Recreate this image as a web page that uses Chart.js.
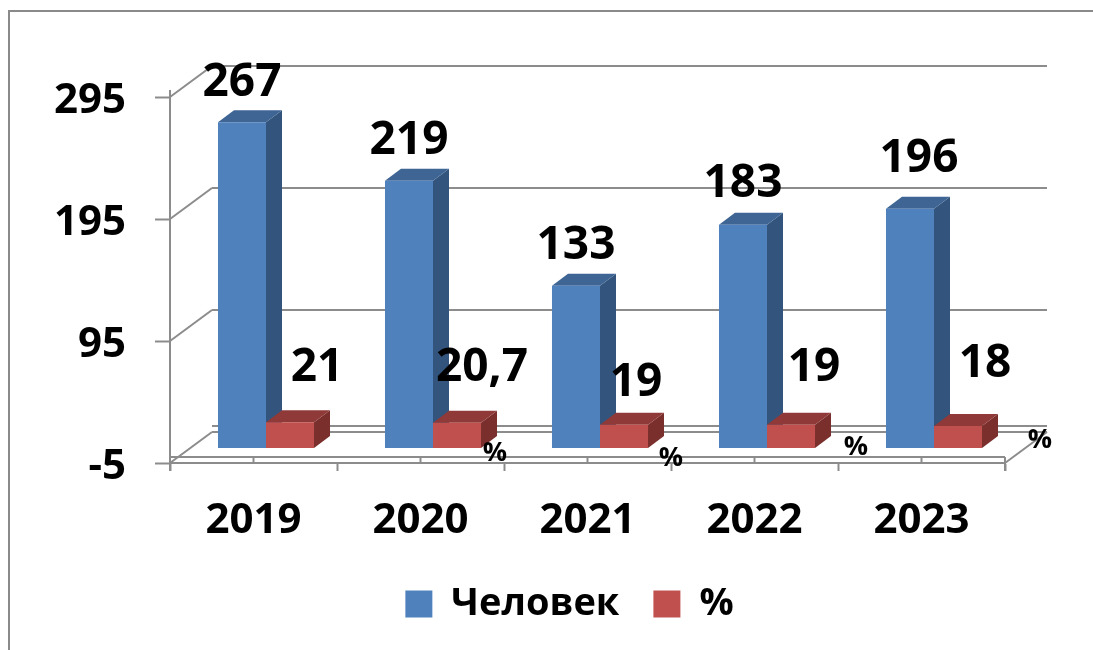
<!DOCTYPE html>
<html>
<head>
<meta charset="utf-8">
<style>html,body{margin:0;padding:0;background:#fff;overflow:hidden}canvas{display:block}</style>
<script src="https://cdn.jsdelivr.net/npm/chart.js@4"></script>
</head>
<body>
<canvas id="c" width="1093" height="650"></canvas>
<script>
const categories = ["2019", "2020", "2021", "2022", "2023"];
const people = [267, 219, 133, 183, 196];
const percent = [21, 20.7, 19, 19, 18];
const percentLabels = ["21", "20,7", "19", "19", "18"];
const percentSuffix = ["", "%", "%", "%", "%"];
const yTickMin = -5, yTickMax = 295, yTickStep = 100;

// layout / style (not data)
const FONT = "'Open Sans', sans-serif";
const LINE = "#8c8c8c";
const DEPTH = {x: 42, y: -31};
const BAR_SHIFT = {x: 12.5, y: -9};
const BAR_DEPTH = {x: 16, y: -12};
const peopleOffsets = [[0,-39],[0,-40],[0,-40],[0,-41],[9,-50]];
const percentOffsets = [[27,-54],[25,-55],[12,-42],[23,-57],[27,-62]];
const suffixOffsets = [[0,0],[38,31],[47,34],[65,23],[82,14]];
const faces = [
  {top: "#3e6594", side: "#32547d"},
  {top: "#8f3a38", side: "#7a2f2d"}
];

const scene = {
  id: "scene",
  beforeDraw(chart) {
    const {ctx} = chart;
    ctx.save();
    ctx.fillStyle = "#fff";
    ctx.fillRect(0, 0, chart.width, chart.height);
    ctx.strokeStyle = "#8a8a8a";
    ctx.lineWidth = 2;
    ctx.beginPath();
    ctx.moveTo(1093, 11); ctx.lineTo(9, 11); ctx.lineTo(9, 650);
    ctx.stroke();
    ctx.restore();
  },
  beforeDatasetsDraw(chart) {
    const {ctx, chartArea: a, scales: {x, y}} = chart;
    ctx.save();
    ctx.strokeStyle = LINE;
    ctx.lineWidth = 2;
    const seg = (x0, y0, x1, y1) => { ctx.beginPath(); ctx.moveTo(x0, y0); ctx.lineTo(x1, y1); ctx.stroke(); };
    y.ticks.forEach(t => {
      const py = y.getPixelForValue(t.value);
      seg(a.left, py, a.left + DEPTH.x, py + DEPTH.y);
      seg(a.left + DEPTH.x, py + DEPTH.y, a.right + DEPTH.x, py + DEPTH.y);
    });
    seg(a.right, a.bottom, a.right + DEPTH.x, a.bottom + DEPTH.y);
    const zero = y.getPixelForValue(0);
    seg(a.left, zero, a.right, zero);
    seg(a.right, zero, a.right, a.bottom + 8);
    seg(a.left + DEPTH.x, zero + DEPTH.y, a.right + DEPTH.x, zero + DEPTH.y);
    seg(a.left, a.top - 7, a.left, a.bottom + 8);
    x.ticks.forEach((t, i) => {
      const px = x.getPixelForTick(i);
      seg(px, zero, px, a.bottom);
    });
    ctx.restore();

    ctx.save();
    ctx.translate(BAR_SHIFT.x, BAR_SHIFT.y);
    [0, 1].forEach(d => {
      chart.getDatasetMeta(d).data.forEach(b => {
        const l = b.x - b.width / 2, r = b.x + b.width / 2, t = b.y, base = b.base;
        ctx.fillStyle = faces[d].side;
        ctx.beginPath();
        ctx.moveTo(r, t); ctx.lineTo(r + BAR_DEPTH.x, t + BAR_DEPTH.y);
        ctx.lineTo(r + BAR_DEPTH.x, base + BAR_DEPTH.y); ctx.lineTo(r, base);
        ctx.closePath(); ctx.fill();
        ctx.fillStyle = faces[d].top;
        ctx.beginPath();
        ctx.moveTo(l, t); ctx.lineTo(l + BAR_DEPTH.x, t + BAR_DEPTH.y);
        ctx.lineTo(r + BAR_DEPTH.x, t + BAR_DEPTH.y); ctx.lineTo(r, t);
        ctx.closePath(); ctx.fill();
      });
    });
  },
  afterDatasetsDraw(chart) {
    const {ctx} = chart;
    ctx.restore();
    ctx.save();
    ctx.fillStyle = "#000";
    ctx.textAlign = "center";
    ctx.textBaseline = "middle";
    ctx.font = "bold 46px " + FONT;
    chart.getDatasetMeta(0).data.forEach((b, i) => {
      ctx.fillText(String(people[i]), b.x + BAR_SHIFT.x + peopleOffsets[i][0], b.y + BAR_SHIFT.y + peopleOffsets[i][1]);
    });
    chart.getDatasetMeta(1).data.forEach((b, i) => {
      ctx.fillText(percentLabels[i], b.x + BAR_SHIFT.x + percentOffsets[i][0], b.y + BAR_SHIFT.y + percentOffsets[i][1]);
    });
    ctx.font = "bold 27px " + FONT;
    chart.getDatasetMeta(1).data.forEach((b, i) => {
      if (percentSuffix[i]) ctx.fillText(percentSuffix[i], b.x + BAR_SHIFT.x + suffixOffsets[i][0], b.y + BAR_SHIFT.y + suffixOffsets[i][1]);
    });
    ctx.restore();
  },
  afterLayout(chart) {
    chart.legend.left += 67;
    chart.legend.right += 67;
    chart.legend.top -= 17;
    chart.legend.bottom -= 17;
  }
};

new Chart(document.getElementById("c"), {
  type: "bar",
  data: {
    labels: categories,
    datasets: [
      {label: "Человек", data: people, backgroundColor: "#4f81bd", barPercentage: 1, categoryPercentage: 0.575, clip: false},
      {label: "%", data: percent, backgroundColor: "#c0504d", barPercentage: 1, categoryPercentage: 0.575, clip: false}
    ]
  },
  options: {
    responsive: false,
    animation: false,
    events: [],
    layout: {padding: {top: 97, right: 88, bottom: 0, left: 0}},
    plugins: {
      tooltip: {enabled: false},
      title: {display: false},
      legend: {
        display: true,
        position: "bottom",
        labels: {boxWidth: 27, boxHeight: 27, padding: 34, color: "#000", font: {family: FONT, size: 38, weight: "bold"}}
      }
    },
    scales: {
      x: {
        grid: {drawOnChartArea: false, drawTicks: true, tickLength: 8, tickWidth: 2, tickColor: LINE, color: LINE},
        border: {display: true, color: LINE, width: 2},
        ticks: {color: "#000", padding: 25, maxRotation: 0, font: {family: FONT, size: 42, weight: "bold"}},
        afterFit(s) { s.height = 187 - (s.chart.legend ? s.chart.legend.height : 70); }
      },
      y: {
        min: yTickMin,
        max: yTickMax,
        grid: {drawOnChartArea: false, drawTicks: true, tickLength: 15, tickWidth: 2, tickColor: LINE, color: LINE},
        border: {display: true, color: LINE, width: 2},
        ticks: {stepSize: yTickStep, color: "#000", padding: 29, labelOffset: 4, font: {family: FONT, size: 42, weight: "bold"}},
        afterFit(s) { s.width = 170; }
      }
    }
  },
  plugins: [scene]
});
</script>
</body>
</html>
